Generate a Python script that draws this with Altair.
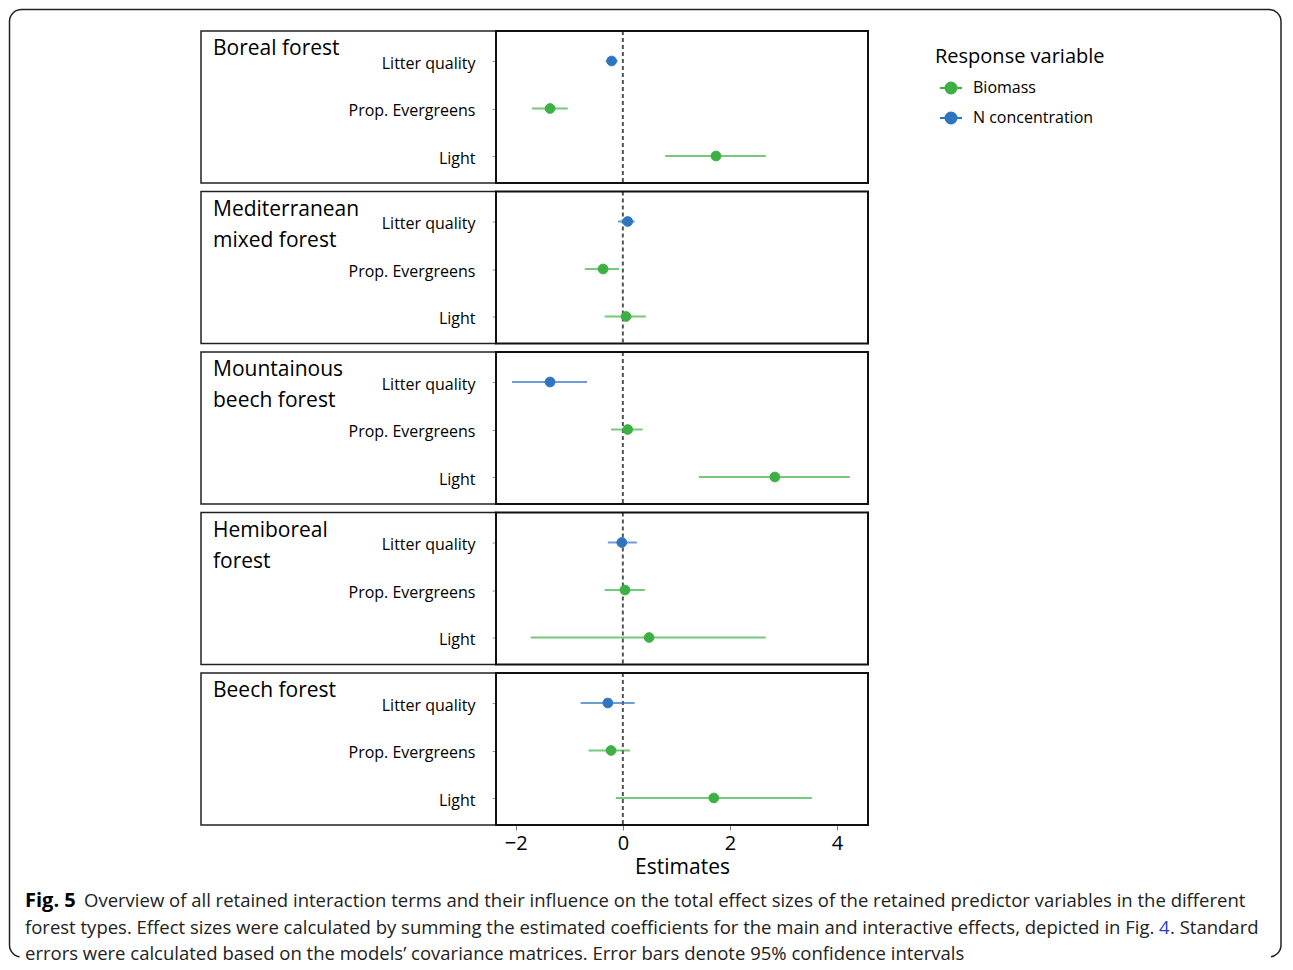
import altair as alt
import pandas as pd

# ---------------- data ----------------
forest_types = ["Boreal forest", "Mediterranean\nmixed forest", "Mountainous\nbeech forest",
                "Hemiboreal\nforest", "Beech forest"]
predictors = ["Litter quality", "Prop. Evergreens", "Light"]
responses = ["N concentration", "Biomass", "Biomass"]
estimates = [[-0.21, -1.36, 1.74],
             [0.09, -0.37, 0.06],
             [-1.36, 0.09, 2.84],
             [-0.02, 0.04, 0.49],
             [-0.28, -0.22, 1.70]]
ci_low = [[-0.32, -1.70, 0.79],
          [-0.09, -0.71, -0.34],
          [-2.07, -0.22, 1.42],
          [-0.28, -0.34, -1.72],
          [-0.79, -0.64, -0.13]]
ci_high = [[-0.10, -1.03, 2.67],
           [0.22, -0.07, 0.43],
           [-0.67, 0.37, 4.24],
           [0.26, 0.41, 2.67],
           [0.22, 0.13, 3.53]]
x_ticks = [-2, 0, 2, 4]
x_domain = [-2.37, 4.58]
legend_levels = ["Biomass", "N concentration"]
legend_colors = ["#3cb043", "#2e75c0"]

caption_bold = "Fig. 5"
caption_line1 = ("Overview of all retained interaction terms and their influence on the total effect "
                 "sizes of the retained predictor variables in the different")
caption_line2a = ("forest types. Effect sizes were calculated by summing the estimated coefficients for "
                  "the main and interactive effects, depicted in Fig.")
caption_link = "4"
caption_line2b = ". Standard"
caption_line3 = ("errors were calculated based on the models\u2019 covariance matrices. Error bars denote "
                 "95% confidence intervals")

rows = []
for i, f in enumerate(forest_types):
    for j, p in enumerate(predictors):
        rows.append({"panel": i, "forest": f, "predictor": p, "response": responses[j],
                     "est": estimates[i][j], "lo": ci_low[i][j], "hi": ci_high[i][j]})
df = pd.DataFrame(rows)

FONT = "Open Sans"
W, H = 372, 152
CAP = 18.5

xscale = alt.Scale(domain=x_domain, nice=False, zero=False)
yscale = alt.Scale(type="point", range=[30, 125], padding=0)
cscale = alt.Scale(domain=legend_levels, range=legend_colors)
SYM = "M-1,0L1,0M0.5,0A0.5,0.5,0,1,1,-0.5,0A0.5,0.5,0,1,1,0.5,0Z"
legend = alt.Legend(title="Response variable", orient="none", legendX=439, legendY=16,
                    symbolType=SYM, symbolSize=484, symbolStrokeWidth=2, symbolOffset=4,
                    symbolOpacity=1, labelOffset=10, rowPadding=8, padding=0, titlePadding=9,
                    labelFont=FONT, labelFontSize=16, labelColor="black",
                    titleFont=FONT, titleFontSize=20, titleFontWeight="normal", titleColor="black")

x_axis_last = alt.Axis(values=x_ticks, title="Estimates", grid=False, domain=False,
                       tickColor="#777", tickSize=5, labelFont=FONT, labelFontSize=20,
                       labelColor="black", labelPadding=3, titleFont=FONT, titleFontSize=21,
                       titleFontWeight="normal", titleColor="black", titlePadding=3)
y_axis = alt.Axis(title=None, grid=False, domain=False, tickColor="#999", tickSize=4,
                  labelFont=FONT, labelFontSize=16, labelColor="black", labelPadding=17,
                  labelOffset=2)

# frame geometry relative to first panel origin
FX1, FY1, FX2, FY2 = -486.5, -21.5, 785, 926


def panel(i):
    d = df[df.panel == i]
    one = d[d.predictor == predictors[0]]
    last = i == len(forest_types) - 1
    xa = x_axis_last if last else None

    box = alt.Chart(one).mark_rect(fill="transparent", stroke="#222", strokeWidth=1.5).encode(
        x=alt.value(-295), x2=alt.value(0), y=alt.value(0), y2=alt.value(H))
    plotbox = alt.Chart(one).mark_rect(fill="transparent", stroke="#111", strokeWidth=2).encode(
        x=alt.value(0), x2=alt.value(W), y=alt.value(0), y2=alt.value(H))
    title = alt.Chart(one).mark_text(align="left", baseline="alphabetic", font=FONT, fontSize=21,
                                     lineBreak="\n", lineHeight=31, color="black").encode(
        x=alt.value(-283), y=alt.value(24), text="forest:N")
    zero = alt.Chart(one).mark_rule(strokeDash=[4, 3], color="#555", strokeWidth=2).encode(
        x=alt.X(datum=0, scale=xscale, axis=xa))
    bars = alt.Chart(d).mark_rule(strokeWidth=2, opacity=0.7).encode(
        x=alt.X("lo:Q", scale=xscale, axis=xa),
        x2="hi:Q",
        y=alt.Y("predictor:N", sort=predictors, scale=yscale, axis=y_axis),
        stroke=alt.Stroke("response:N", scale=cscale, legend=legend))
    pts = alt.Chart(d).mark_point(filled=True, size=95, opacity=1, strokeWidth=1).encode(
        x=alt.X("est:Q", scale=xscale, axis=xa),
        y=alt.Y("predictor:N", sort=predictors, scale=yscale, axis=y_axis),
        fill=alt.Fill("response:N", scale=cscale, legend=legend),
        stroke=alt.Stroke("response:N", scale=cscale, legend=legend))
    layers = [box, title, zero, bars, pts, plotbox]

    if i == 0:
        frame = alt.Chart(one).mark_rect(fill="transparent", stroke="#222", strokeWidth=1.5,
                                         strokeJoin="round", cornerRadius=12).encode(
            x=alt.value(FX1), x2=alt.value(FX2), y=alt.value(FY1), y2=alt.value(FY2))
        cover = alt.Chart(one).mark_rect(fill="white", strokeWidth=0).encode(
            x=alt.value(FX1 + 10), x2=alt.value(FX2 - 10),
            y=alt.value(FY2 - 1.5), y2=alt.value(FY2 + 1.5))
        layers = [frame, cover] + layers
    if last:
        def txt(s, x, y, **kw):
            props = dict(align="left", baseline="middle", font=FONT, fontSize=CAP, color="#222")
            props.update(kw)
            return alt.Chart(pd.DataFrame({"t": [s]})).mark_text(**props).encode(
                text="t:N", x=alt.value(x), y=alt.value(y))
        layers += [
            txt(caption_bold, -471, 228, fontWeight="bold", fontSize=20, color="black"),
            txt(caption_line1, -412, 228),
            txt(caption_line2a, -471, 255),
            txt(caption_link, 663, 255, color="#1f3fd6"),
            txt(caption_line2b, 674, 255),
            txt(caption_line3, -471, 281),
        ]
    return alt.layer(*layers).properties(width=W, height=H)


chart = alt.vconcat(*[panel(i) for i in range(len(forest_types))], spacing=8.5, bounds="flush")
chart = chart.resolve_scale(fill="shared", stroke="shared").properties(
    padding={"left": 0, "top": 0, "right": 0, "bottom": 0}
).configure(background="white").configure_view(stroke=None)

chart.save("out.html", embed_options={"renderer": "svg", "actions": False})
